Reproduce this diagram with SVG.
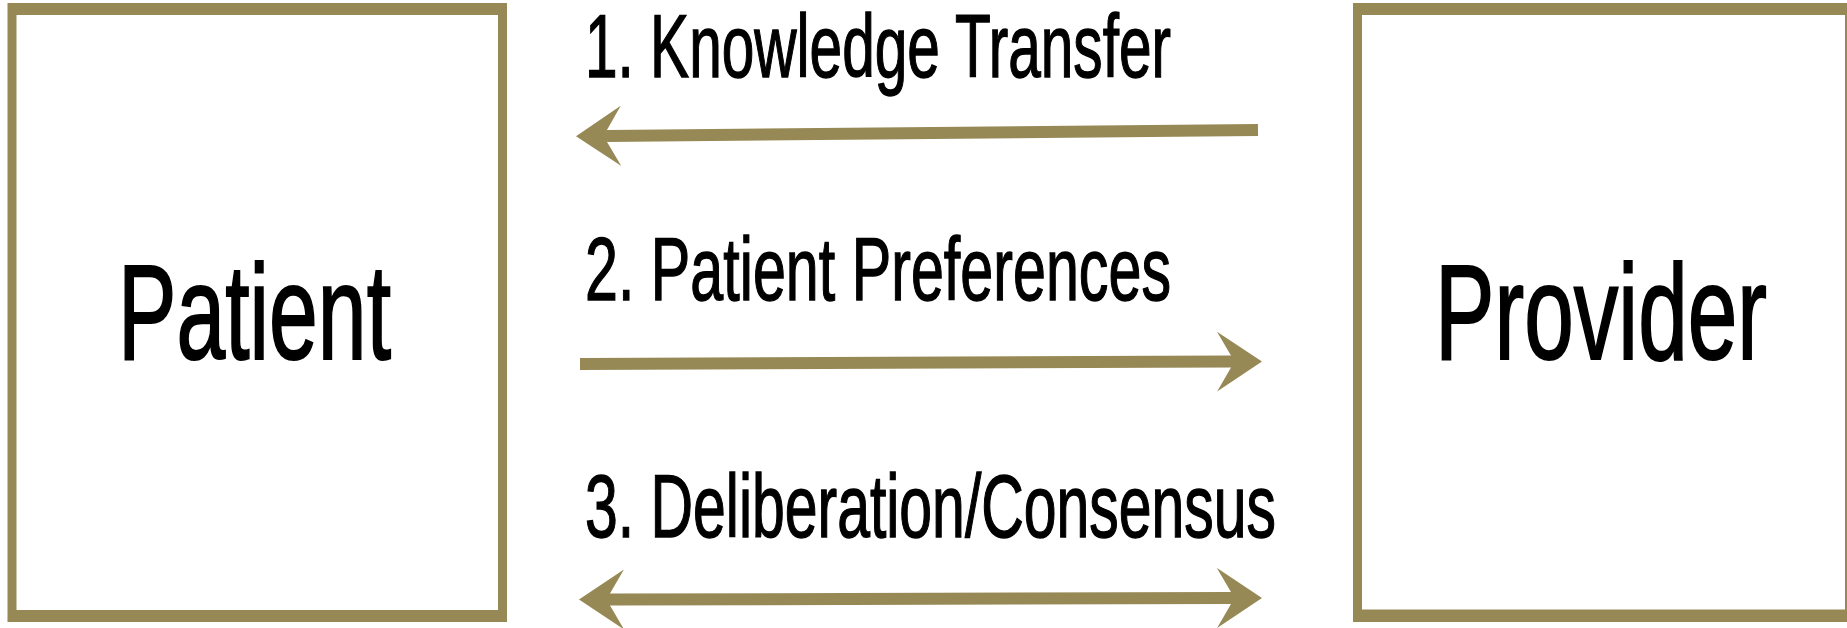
<svg xmlns="http://www.w3.org/2000/svg" width="1847" height="628" viewBox="0 0 1847 628">
  <style>
    .box { fill: #978956; fill-rule: evenodd; }
    .node-label { font-family: "Liberation Sans", Arial, sans-serif; font-size: 136px; fill: #000; stroke: #000; stroke-width: 2; }
    .edge-label { font-family: "Liberation Sans", Arial, sans-serif; font-size: 89px; fill: #000; stroke: #000; stroke-width: 1.4; }
    .conn { stroke: #978956; stroke-width: 12; fill: none; stroke-linecap: butt; }
  </style>
  <defs>
    <marker id="head" markerUnits="userSpaceOnUse" markerWidth="46" markerHeight="62" viewBox="0 0 46 62" refX="14" refY="31" orient="auto-start-reverse">
      <path d="M45,31 L0,1 L14,25 L14,37 L0,61 Z" fill="#978956"/>
    </marker>
  </defs>
  <rect width="1847" height="628" fill="#ffffff"/>

  <g id="patient">
    <path class="box" d="M7.5,3 H507 V622 H7.5 Z M16.5,15 H498 V610 H16.5 Z"/>
    <text class="node-label" x="118" y="359" textLength="273" lengthAdjust="spacingAndGlyphs">Patient</text>
  </g>

  <g id="provider">
    <path class="box" d="M1353,3 H1856 V622 H1353 Z M1362,15 H1845 V609.5 H1362 Z"/>
    <text class="node-label" x="1435" y="359" textLength="332" lengthAdjust="spacingAndGlyphs">Provider</text>
  </g>

  <g id="connectors">
    <line class="conn" x1="1258" y1="130" x2="607" y2="136" marker-end="url(#head)"/>
    <text class="edge-label" x="585" y="77" textLength="586" lengthAdjust="spacingAndGlyphs">1. Knowledge Transfer</text>

    <line class="conn" x1="580" y1="364" x2="1231" y2="361.5" marker-end="url(#head)"/>
    <text class="edge-label" x="585" y="300" textLength="586" lengthAdjust="spacingAndGlyphs">2. Patient Preferences</text>

    <line class="conn" x1="610" y1="599.5" x2="1231" y2="598" marker-start="url(#head)" marker-end="url(#head)"/>
    <text class="edge-label" x="585" y="537" textLength="691" lengthAdjust="spacingAndGlyphs">3. Deliberation/Consensus</text>
  </g>
</svg>
